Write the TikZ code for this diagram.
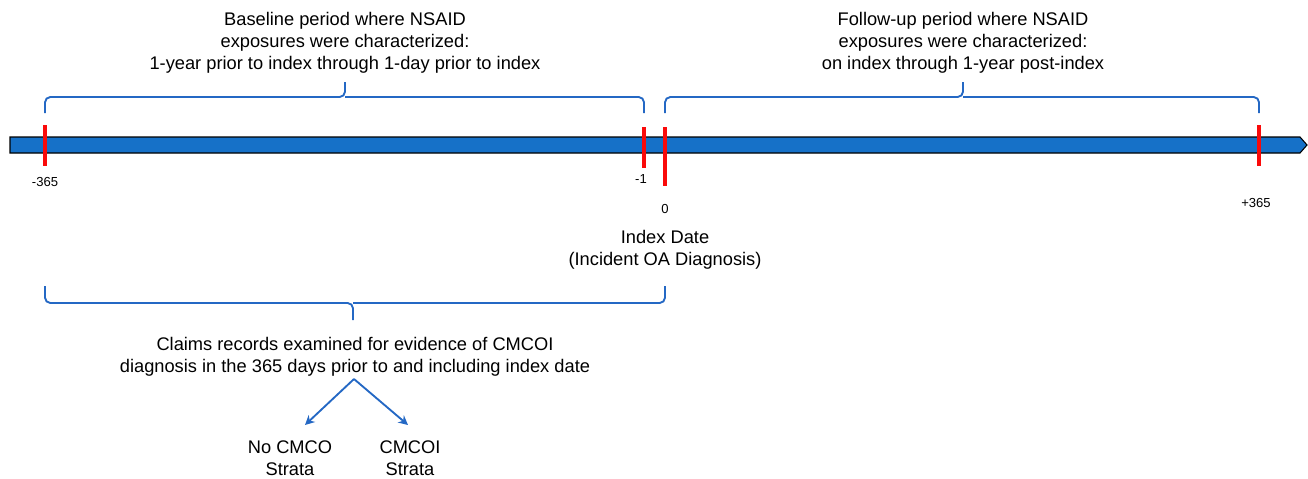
\documentclass[tikz,border=0pt]{standalone}
\usepackage{fontspec}
\setmainfont{Liberation Sans}
\usetikzlibrary{arrows.meta,positioning,calc}
\definecolor{barblue}{RGB}{22,113,200}
\definecolor{braceblue}{RGB}{36,104,196}
\definecolor{tickred}{RGB}{250,10,10}

\begin{document}
\begin{tikzpicture}[x=0.75pt, y=-0.75pt,
    txt/.style={align=center, font=\fontsize{13.7}{16.5}\selectfont, inner sep=0pt},
    lbl/.style={font=\fontsize{9.8}{11}\selectfont, inner sep=0pt},
    redtick/.style={draw=tickred, line width=2.5pt},
    brc/.style={draw=braceblue, line width=1.4pt, rounded corners=4pt},
    arr/.style={-{Stealth[length=2.5mm, width=2.5mm]}, draw=braceblue, line width=1.4pt}
]
\useasboundingbox (0,0) rectangle (1308,478);

% timeline bar
\filldraw[fill=barblue, draw=black, line width=0.8pt]
    (10,137) -- (1300,137) -- (1307,145) -- (1300,153) -- (10,153) -- cycle;

% red ticks
\draw[redtick] (45,125) -- (45,166);
\draw[redtick] (644,127) -- (644,168);
\draw[redtick] (665,127) -- (665,186);
\draw[redtick] (1259,125) -- (1259,166);

\node[lbl] (lm365) at (45,182) {-365};
\node[lbl] (lm1) at (641,179) {-1};
\node[lbl] (lzero) at (665,209) {0};
\node[lbl] (lp365) at (1256,203) {+365};

% braces
\draw[brc] (45,113) |- (345,97) -- (345,82);
\draw[brc] (644,113) |- (345,97);
\draw[brc] (665,113) |- (963,97) -- (963,82);
\draw[brc] (1259,113) |- (963,97);
\draw[brc] (45,286) |- (353,303) -- (353,320);
\draw[brc] (665,286) |- (353,303);

% texts
\node[txt] (base) at (345,43) {Baseline period where NSAID\\exposures were characterized:\\1-year prior to index through 1-day prior to index};
\node[txt] (follow) at (963,43) {Follow-up period where NSAID\\exposures were characterized:\\on index through 1-year post-index};
\node[txt] (index) at (665,250) {Index Date\\(Incident OA Diagnosis)};
\node[txt] (claims) at (355,357) {Claims records examined for evidence of CMCOI\\diagnosis in the 365 days prior to and including index date};
\node[txt] (nocm) at (290,458) {No CMCO\\Strata};
\node[txt] (cmcoi) at (410,458) {CMCOI\\Strata};

% split into strata
\coordinate (split) at (354,379);
\coordinate (tonocm) at (305,425);
\coordinate (tocmcoi) at (408,425);
\draw[arr] (split) -- (tonocm);
\draw[arr] (split) -- (tocmcoi);
\end{tikzpicture}
\end{document}
